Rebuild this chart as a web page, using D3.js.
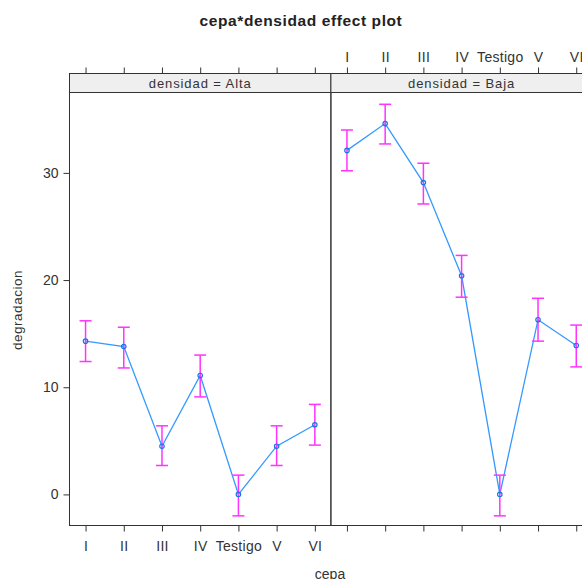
<!DOCTYPE html>
<html>
<head>
<meta charset="utf-8">
<script src="https://cdn.jsdelivr.net/npm/d3@7"></script>
<style>
  body { margin: 0; background: #fff; }
  text { font-family: "Liberation Sans", Arial, sans-serif; fill: #333; }
</style>
</head>
<body>
<div id="chart"></div>
<script>
// categories and panels
var cepas = ["I", "II", "III", "IV", "Testigo", "V", "VI"];
var densidades = ["Alta", "Baja"];

// fitted values and 95% limits
var altaFit   = [14.3, 13.8, 4.5, 11.1, 0.0, 4.5, 6.5];
var altaLower = [12.4, 11.8, 2.7, 9.1, -2.0, 2.7, 4.6];
var altaUpper = [16.2, 15.6, 6.4, 13.0, 1.8, 6.4, 8.4];

var bajaFit   = [32.1, 34.6, 29.1, 20.4, 0.0, 16.3, 13.9];
var bajaLower = [30.2, 32.7, 27.1, 18.4, -2.0, 14.3, 11.9];
var bajaUpper = [34.0, 36.4, 30.9, 22.3, 1.8, 18.3, 15.8];

var yTicks = [0, 10, 20, 30];

var panels = [
  {name: densidades[0], fit: altaFit, lower: altaLower, upper: altaUpper},
  {name: densidades[1], fit: bajaFit, lower: bajaLower, upper: bajaUpper}
];

var width = 582, height = 579;
var left = 69.5, panelW = 261.4, panelTop = 73.5, stripH = 19, bottom = 525.5;

var svg = d3.select("#chart")
  .append("svg")
  .attr("width", width)
  .attr("height", height);

var y = d3.scaleLinear()
  .domain([-2.9, 37.5])
  .range([bottom, panelTop + stripH]);

// title
svg.append("text")
  .attr("x", 301)
  .attr("y", 26)
  .attr("text-anchor", "middle")
  .style("font-size", "15.5px")
  .style("font-weight", "bold")
  .style("letter-spacing", "0.6px")
  .style("fill", "#222")
  .text("cepa*densidad effect plot");

panels.forEach(function(p, i) {
  var x0 = left + i * panelW;
  var x = d3.scalePoint()
    .domain(cepas)
    .range([x0, x0 + panelW])
    .padding(0.42);

  var g = svg.append("g");

  // strip
  g.append("rect")
    .attr("x", x0).attr("y", panelTop)
    .attr("width", panelW).attr("height", stripH)
    .attr("fill", "#efefef")
    .attr("stroke", "#333");
  g.append("text")
    .attr("x", x0 + panelW / 2)
    .attr("y", panelTop + 14)
    .attr("text-anchor", "middle")
    .style("font-size", "13px")
    .style("letter-spacing", "0.9px")
    .text("densidad = " + p.name);

  // panel border
  g.append("rect")
    .attr("x", x0).attr("y", panelTop + stripH)
    .attr("width", panelW).attr("height", bottom - panelTop - stripH)
    .attr("fill", "none")
    .attr("stroke", "#333");

  // bottom ticks
  var bAxis = d3.axisBottom(x).tickSize(6).tickPadding(10);
  if (i === 1) bAxis.tickFormat("");
  var ba = g.append("g")
    .attr("transform", "translate(0," + bottom + ")")
    .call(bAxis);
  ba.select(".domain").remove();
  ba.selectAll("line").attr("stroke", "#333");
  ba.selectAll("text").style("font-size", "14px").style("letter-spacing", "0.3px").style("fill", "#333");

  // top ticks
  var tAxis = d3.axisTop(x).tickSize(6).tickPadding(6);
  if (i === 0) tAxis.tickFormat("");
  var ta = g.append("g")
    .attr("transform", "translate(0," + panelTop + ")")
    .call(tAxis);
  ta.select(".domain").remove();
  ta.selectAll("line").attr("stroke", "#333");
  ta.selectAll("text").style("font-size", "14px").style("letter-spacing", "0.3px").style("fill", "#333");

  var idx = d3.range(cepas.length);

  // line
  g.append("path")
    .datum(idx)
    .attr("fill", "none")
    .attr("stroke", "#3399ff")
    .attr("stroke-width", 1.3)
    .attr("d", d3.line()
      .x(function(k) { return x(cepas[k]); })
      .y(function(k) { return y(p.fit[k]); }));

  // error bars
  var eb = g.selectAll(".eb").data(idx).enter().append("g");
  eb.append("line")
    .attr("x1", function(k) { return x(cepas[k]); })
    .attr("x2", function(k) { return x(cepas[k]); })
    .attr("y1", function(k) { return y(p.lower[k]); })
    .attr("y2", function(k) { return y(p.upper[k]); })
    .attr("stroke", "#ff33ff").attr("stroke-width", 1.5);
  [p.lower, p.upper].forEach(function(arr) {
    eb.append("line")
      .attr("x1", function(k) { return x(cepas[k]) - 6; })
      .attr("x2", function(k) { return x(cepas[k]) + 6; })
      .attr("y1", function(k) { return y(arr[k]); })
      .attr("y2", function(k) { return y(arr[k]); })
      .attr("stroke", "#ff33ff").attr("stroke-width", 1.5);
  });

  // points
  g.selectAll(".pt").data(idx).enter().append("circle")
    .attr("cx", function(k) { return x(cepas[k]); })
    .attr("cy", function(k) { return y(p.fit[k]); })
    .attr("r", 2.2)
    .attr("fill", "none")
    .attr("stroke", "#1a73e8")
    .attr("stroke-width", 1.2);
});

// y axis on left panel
var ya = svg.append("g")
  .attr("transform", "translate(" + left + ",0)")
  .call(d3.axisLeft(y).tickValues(yTicks).tickSize(6).tickPadding(5));
ya.select(".domain").remove();
ya.selectAll("line").attr("stroke", "#333");
ya.selectAll("text").style("font-size", "14px").style("fill", "#333");

// axis labels
svg.append("text")
  .attr("transform", "translate(22,310) rotate(-90)")
  .attr("text-anchor", "middle")
  .style("font-size", "13.5px")
  .style("letter-spacing", "0.5px")
  .text("degradacion");

svg.append("text")
  .attr("x", 330)
  .attr("y", 579)
  .attr("text-anchor", "middle")
  .style("font-size", "14px")
  .text("cepa");
</script>
</body>
</html>
